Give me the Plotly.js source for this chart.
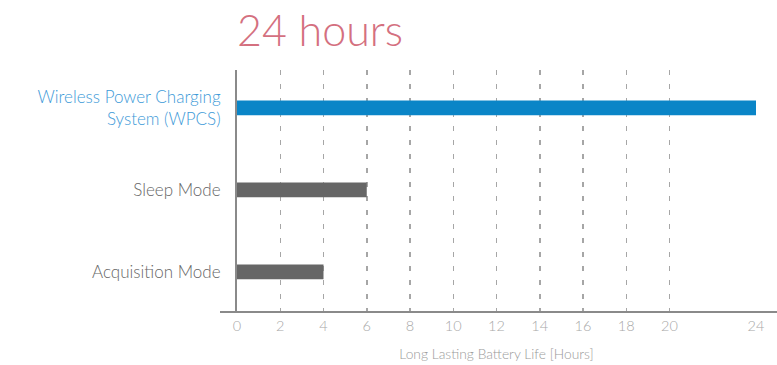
<!DOCTYPE html>
<html>
<head>
<meta charset="utf-8">
<script src="https://cdn.plot.ly/plotly-3.0.1.min.js"></script>
<style>
  html, body { margin: 0; padding: 0; background: #ffffff; }
  #chart { width: 777px; height: 365px; }
</style>
</head>
<body>
<div id="chart"></div>
<script>
// ---- data ----
const categories = [
  "Wireless Power Charging<br>System (WPCS)",
  "Sleep Mode",
  "Acquisition Mode"
];
const hours = [24, 6, 4];
const tickValues = [0, 2, 4, 6, 8, 10, 12, 14, 16, 18, 20, 24];
const tickLabels = ["0", "2", "4", "6", "8", "10", "12", "14", "16", "18", "20", "24"];
const titleText = "24 hours";
const xTitleText = "Long Lasting Battery Life [Hours]";

// ---- styles ----
const barColors = ["#0a85c7", "#666666", "#666666"];
const labelColors = ["#3d9ad8", "#666666", "#666666"];
const FONT = "Lato, 'Liberation Sans', 'DejaVu Sans', sans-serif";

const labelText = categories.map((c, i) =>
  '<span style="color:' + labelColors[i] + '">' + c + '</span>');

const trace = {
  type: "bar",
  orientation: "h",
  y: categories,
  x: hours,
  width: 0.18,
  marker: { color: barColors, line: { width: 0 } },
  hoverinfo: "x+y"
};

const layout = {
  width: 777,
  height: 365,
  margin: { l: 237, r: 21, t: 70, b: 53 },
  paper_bgcolor: "#ffffff",
  plot_bgcolor: "#ffffff",
  showlegend: false,
  font: { family: FONT, color: "#666666" },
  title: {
    text: titleText,
    font: { family: FONT, size: 43, color: "#d4707f", weight: 300 },
    xref: "paper", x: 0, xanchor: "left",
    yref: "container", y: 1 - 31 / 365, yanchor: "middle"
  },
  xaxis: {
    range: [0, 24],
    tickvals: tickValues,
    ticktext: tickLabels,
    showgrid: true,
    gridcolor: "#a6a6a6",
    gridwidth: 1.5,
    griddash: "5px,9px",
    zeroline: false,
    showline: false,
    ticks: "",
    tickfont: { family: FONT, size: 14.5, color: "#a8a8a8", weight: 300 },
    ticklabelstandoff: 3,
    title: {
      text: xTitleText,
      font: { family: FONT, size: 13.8, color: "#9a9a9a", weight: 300 },
      standoff: 16
    },
    fixedrange: true
  },
  yaxis: {
    type: "category",
    categoryorder: "array",
    categoryarray: categories,
    range: [2.488, -0.463],
    tickvals: categories,
    ticktext: labelText,
    showgrid: false,
    zeroline: false,
    showline: true,
    linecolor: "#8a8a8a",
    linewidth: 2,
    ticks: "",
    ticklabelstandoff: 11,
    tickfont: { family: FONT, size: 17, color: "#666666", weight: 300 },
    fixedrange: true
  },
  shapes: [
    {
      type: "line", xref: "paper", yref: "paper",
      x0: (220 - 237) / 519, x1: (777 - 237) / 519, y0: 0, y1: 0,
      line: { color: "#8a8a8a", width: 2 }
    }
  ]
};

Plotly.newPlot("chart", [trace], layout, { displayModeBar: false, staticPlot: true });
</script>
</body>
</html>
